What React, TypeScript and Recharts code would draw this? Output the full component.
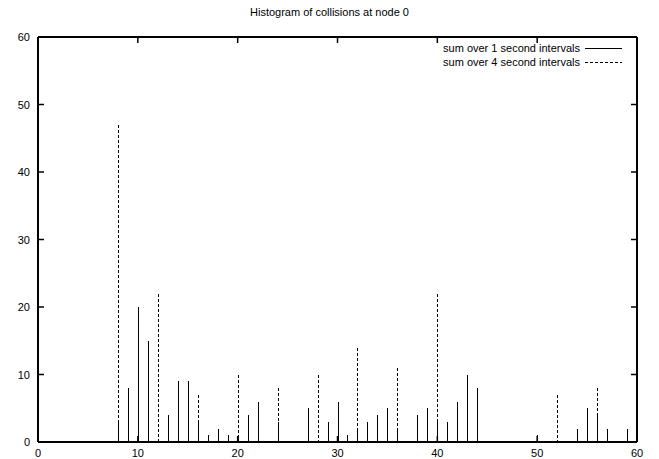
import { ComposedChart, Bar, XAxis, YAxis, Legend } from "recharts"

const chartTitle = "Histogram of collisions at node 0"
const oneSecLabel = "sum over 1 second intervals"
const fourSecLabel = "sum over 4 second intervals"

// 1 second bins (time, collisions)
const oneSecTimes = [8, 9, 10, 11, 13, 14, 15, 16, 17, 18, 19, 20, 21, 22, 24, 27, 29, 30, 31, 32, 33, 34, 35, 36, 38, 39, 40, 41, 42, 43, 44, 50, 54, 55, 56, 57, 59]
const oneSecCounts = [3, 8, 20, 15, 4, 9, 9, 3, 1, 2, 1, 1, 4, 6, 3, 5, 3, 6, 1, 2, 3, 4, 5, 2, 4, 5, 3, 3, 6, 10, 8, 1, 2, 5, 4, 2, 2]

// 4 second bins
const fourSecTimes = [8, 12, 16, 20, 24, 28, 32, 36, 40, 44, 52, 56]
const fourSecCounts = [47, 22, 7, 10, 8, 10, 14, 11, 22, 8, 7, 8]

const xTicks = [0, 10, 20, 30, 40, 50, 60]
const yTicks = [0, 10, 20, 30, 40, 50, 60]

const times = Array.from(new Set([...oneSecTimes, ...fourSecTimes])).sort((a, b) => a - b)
const data = times.map(t => {
  const i = oneSecTimes.indexOf(t)
  const j = fourSecTimes.indexOf(t)
  return { t, one: i >= 0 ? oneSecCounts[i] : null, four: j >= 0 ? fourSecCounts[j] : null }
})

const font = "'Liberation Sans', Arial, sans-serif"
const TICK = 6
const axisLine = { stroke: "#000", strokeWidth: 1.2, shapeRendering: "crispEdges" }

// gnuplot style: tick marks point into the plot
const tickPath = (d: string) => (
  <path d={d} fill="none" stroke="#000" strokeWidth={1.5} />
)

const BottomTick = (props: any) => {
  const { x, y, payload } = props
  return (
    <g>
      {tickPath(`M${x},${y}V${y - TICK}`)}
      <text x={x} y={y + 15} textAnchor="middle" fontSize={11} fontFamily={font} fill="#000">
        {payload.value}
      </text>
    </g>
  )
}
const TopTick = (props: any) => {
  const { x, y } = props
  return <g>{tickPath(`M${x},${y}V${y + TICK}`)}</g>
}
const LeftTick = (props: any) => {
  const { x, y, payload } = props
  return (
    <g>
      {tickPath(`M${x},${y}H${x + TICK}`)}
      <text x={x - 8} y={y + 4} textAnchor="end" fontSize={11} fontFamily={font} fill="#000">
        {payload.value}
      </text>
    </g>
  )
}
const RightTick = (props: any) => {
  const { x, y } = props
  return <g>{tickPath(`M${x},${y}H${x - TICK}`)}</g>
}

const impulse = (dash?: string) => (props: any) => {
  const { x, y, width, height } = props
  if (!height || height <= 0) return null
  const cx = Math.round(x + width / 2) + 0.5
  return (
    <line
      x1={cx}
      x2={cx}
      y1={y}
      y2={y + height}
      stroke="#000"
      strokeWidth={1}
      strokeDasharray={dash}
      shapeRendering="crispEdges"
    />
  )
}

const LegendBox = () => (
  <svg width={250} height={32} style={{ display: "block" }}>
    <text x={200} y={8} textAnchor="end" dominantBaseline="central" fontSize={11} fontFamily={font} fill="#000">
      {oneSecLabel}
    </text>
    <line x1={205} x2={242} y1={8.5} y2={8.5} stroke="#000" shapeRendering="crispEdges" />
    <text x={200} y={22} textAnchor="end" dominantBaseline="central" fontSize={11} fontFamily={font} fill="#000">
      {fourSecLabel}
    </text>
    <line x1={205} x2={242} y1={22.5} y2={22.5} stroke="#000" strokeDasharray="3 2" shapeRendering="crispEdges" />
  </svg>
)

export default function App() {
  return (
    <div style={{ position: "absolute", left: 0, top: 0, width: 659, height: 459, background: "#fff" }}>
      <div
        style={{
          position: "absolute",
          top: 6,
          left: 0,
          width: 659,
          textAlign: "center",
          fontFamily: font,
          fontSize: 11,
          lineHeight: "13px",
          color: "#000",
        }}
      >
        {chartTitle}
      </div>
      <ComposedChart width={659} height={459} data={data} margin={{ top: 27, right: 12, bottom: 0, left: 8 }}>
        <XAxis
          xAxisId="bottom"
          dataKey="t"
          type="number"
          domain={[0, 60]}
          ticks={xTicks}
          height={17}
          tickSize={0}
          tickMargin={0}
          tickLine={false}
          tick={(p: any) => <BottomTick {...p} />}
          axisLine={axisLine}
        />
        <XAxis
          xAxisId="top"
          dataKey="t"
          orientation="top"
          type="number"
          domain={[0, 60]}
          ticks={xTicks}
          height={10}
          tickSize={0}
          tickMargin={0}
          tickLine={false}
          tick={(p: any) => <TopTick {...p} />}
          axisLine={axisLine}
        />
        <YAxis
          yAxisId="left"
          domain={[0, 60]}
          ticks={yTicks}
          width={30}
          tickSize={0}
          tickMargin={0}
          tickLine={false}
          tick={(p: any) => <LeftTick {...p} />}
          axisLine={axisLine}
        />
        <YAxis
          yAxisId="right"
          orientation="right"
          domain={[0, 60]}
          ticks={yTicks}
          width={10}
          tickSize={0}
          tickMargin={0}
          tickLine={false}
          tick={(p: any) => <RightTick {...p} />}
          axisLine={axisLine}
        />
        <Legend
          layout="horizontal"
          verticalAlign="middle"
          align="center"
          wrapperStyle={{ top: 40, left: 380, width: 250, height: 32 }}
          content={() => <LegendBox />}
        />
        <Bar
          xAxisId="top"
          yAxisId="right"
          dataKey="four"
          name={fourSecLabel}
          barSize={2}
          isAnimationActive={false}
          shape={impulse("3 2")}
        />
        <Bar
          xAxisId="bottom"
          yAxisId="left"
          dataKey="one"
          name={oneSecLabel}
          barSize={2}
          isAnimationActive={false}
          shape={impulse()}
        />
      </ComposedChart>
    </div>
  )
}
